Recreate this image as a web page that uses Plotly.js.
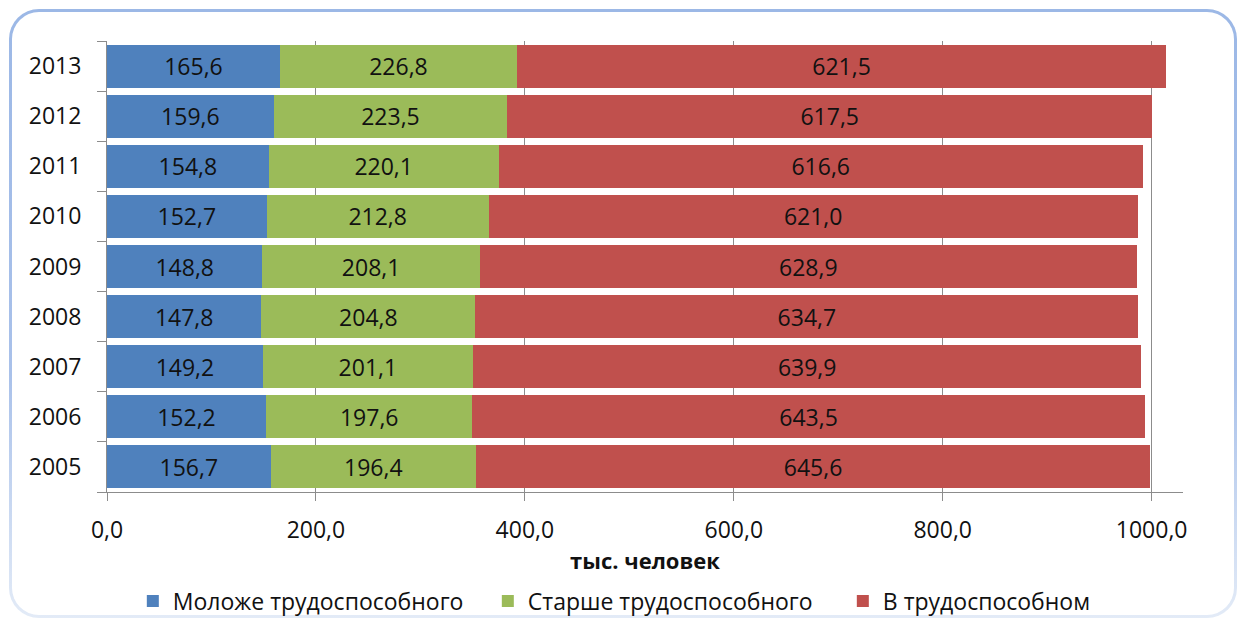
<!DOCTYPE html>
<html><head><meta charset="utf-8">
<script src="https://cdn.plot.ly/plotly-3.0.1.min.js"></script>
<style>
html,body{margin:0;padding:0;background:#fff;width:1238px;height:620px;overflow:hidden;}
#frame{position:absolute;left:9px;top:9px;width:1228px;height:609px;border-radius:30px;background:linear-gradient(#9cb8e6,#a9c1ea 60%,#e3ebf7);}
#inner{position:absolute;left:3px;top:3px;right:3px;bottom:3px;border-radius:27px;background:#fff;}
#chart{position:absolute;left:0;top:0;width:1238px;height:620px;}
</style></head>
<body>
<div id="frame"><div id="inner"></div></div>
<div id="chart"></div>
<script>
const years = ['2005','2006','2007','2008','2009','2010','2011','2012','2013'];
const younger = [156.7,152.2,149.2,147.8,148.8,152.7,154.8,159.6,165.6];
const older = [196.4,197.6,201.1,204.8,208.1,212.8,220.1,223.5,226.8];
const working = [645.6,643.5,639.9,634.7,628.9,621.0,616.6,617.5,621.5];
const seriesNames = ['Моложе трудоспособного','Старше трудоспособного','В трудоспособном'];
const xTickVals = [0,200,400,600,800,1000];
const xTitle = 'тыс. человек';

const colors = ['#4f81bd','#9bbb59','#c0504d'];
const font = "'Open Sans', 'Noto Sans', sans-serif";
const fs = 23;
const mk = (vals,i) => ({
  type:'bar', orientation:'h', y:years, x:vals, name:seriesNames[i],
  marker:{color:colors[i], line:{width:0}},
  texttemplate:'%{x:.1f}', textposition:'inside', insidetextanchor:'middle',
  textfont:{family:font,size:fs,color:'#111'}, constraintext:'none',
  hoverinfo:'x+name'
});
const data = [mk(younger,0), mk(older,1), mk(working,2)];
const layout = {
  width:1238, height:620, barmode:'stack', bargap:0.14,
  separators:', ',
  paper_bgcolor:'rgba(0,0,0,0)', plot_bgcolor:'rgba(0,0,0,0)',
  margin:{l:107, r:55, t:41, b:128, autoexpand:false},
  font:{family:font, size:fs, color:'#111'},
  xaxis:{range:[0,1030], tickvals:xTickVals, tickformat:'.1f', showgrid:true, gridcolor:'#8c8c8c', gridwidth:1,
    showline:true, linecolor:'#8c8c8c', linewidth:1, ticks:'outside', ticklen:8, tickcolor:'#8c8c8c',
    zeroline:false, tickfont:{family:font,size:fs,color:'#111'}, ticklabelstandoff:9, automargin:false,
    title:{text:'<b>'+xTitle+'</b>', font:{family:font,size:22,color:'#111'}, standoff:0}},
  yaxis:{type:'category', showline:true, linecolor:'#8c8c8c', linewidth:1, ticks:'outside', ticklen:9,
    tickcolor:'#8c8c8c', tickson:'boundaries', showgrid:false, ticklabelstandoff:20, automargin:false,
    tickfont:{family:font,size:fs,color:'#111'}},
  legend:{orientation:'h', x:0.024, xanchor:'left', y:-0.2417, yanchor:'middle',
    font:{family:font,size:fs,color:'#111'}, traceorder:'normal', itemwidth:30, entrywidth:310},
  showlegend:true
};
Plotly.newPlot('chart', data, layout, {displayModeBar:false, staticPlot:true});
</script>
</body></html>
